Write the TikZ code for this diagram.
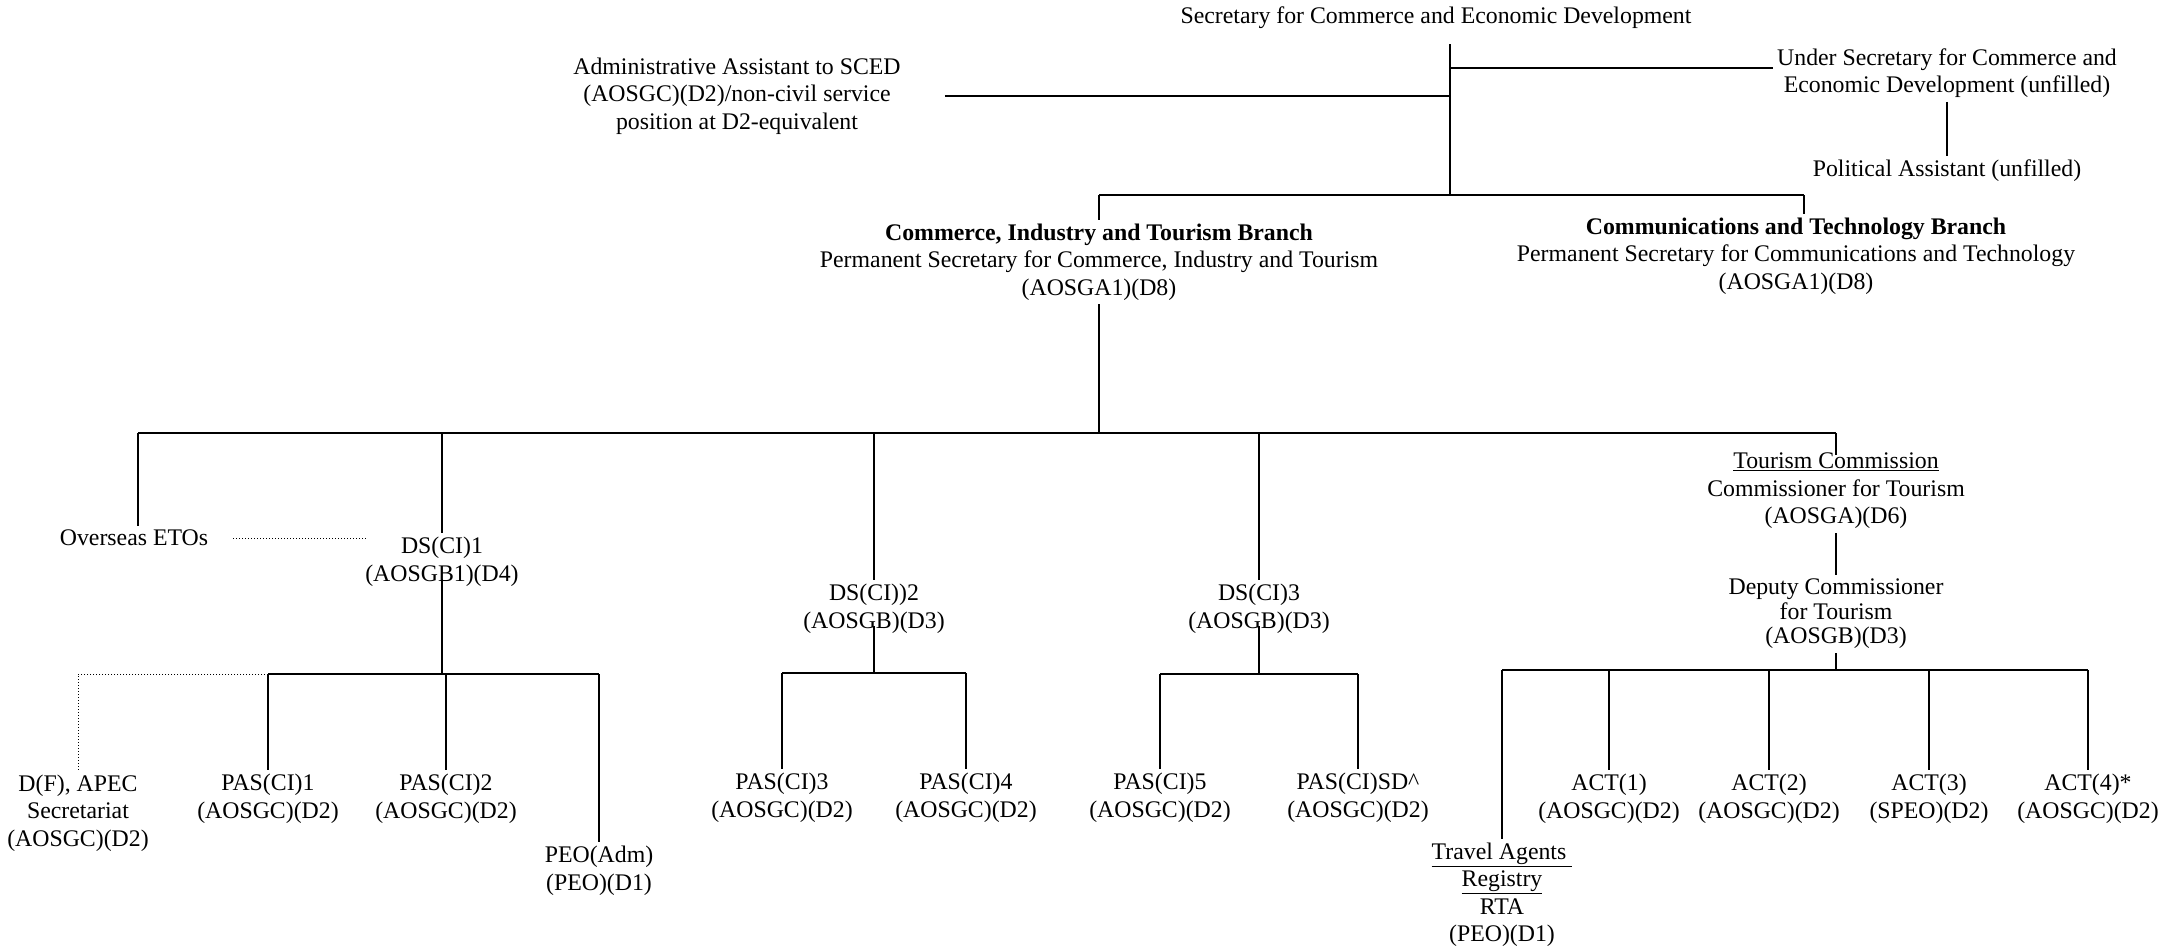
\documentclass[tikz,border=0pt]{standalone}
\usepackage{fontspec}
\setmainfont{Liberation Serif}
\usetikzlibrary{positioning,calc}
\tikzstyle{post} = [align=center, inner sep=4pt,
    font=\fontsize{23.8}{27.5}\selectfont]
\tikzstyle{link} = [draw, line width=1.4pt]
\tikzstyle{bar} = [draw, line width=2.2pt]
\tikzstyle{dots} = [draw, line width=1pt, dotted]
\tikzstyle{junction} = [coordinate]

\begin{document}
\begin{tikzpicture}[x=1pt, y=-1pt]
    \useasboundingbox (0,0) rectangle (2169,951);
    % We start with the secretary and his office
    \node [post] (sced) at (1436,18) {Secretary for Commerce and Economic Development};
    \node [post] (admin) at (737,96) {Administrative Assistant to SCED\\(AOSGC)(D2)/non-civil service\\position at D2-equivalent};
    \node [post] (usec) at (1947,73) {Under Secretary for Commerce and\\Economic Development (unfilled)};
    \node [post] (pa) at (1947,171) {Political Assistant (unfilled)};
    % The two branches
    \node [post] (cit) at (1099,262) {\textbf{Commerce, Industry and Tourism Branch}\\Permanent Secretary for Commerce, Industry and Tourism\\(AOSGA1)(D8)};
    \node [post] (ct) at (1796,256) {\textbf{Communications and Technology Branch}\\Permanent Secretary for Communications and Technology\\(AOSGA1)(D8)};
    % Deputy secretaries and the tourism commission
    \node [post] (eto) at (134,538) {Overseas ETOs};
    \node [post] (ds1) at (442,562) {DS(CI)1\\(AOSGB1)(D4)};
    \node [post] (ds2) at (874,609) {DS(CI))2\\(AOSGB)(D3)};
    \node [post] (ds3) at (1259,609) {DS(CI)3\\(AOSGB)(D3)};
    \node [post] (tc) at (1836,491) {\underline{Tourism Commission}\\Commissioner for Tourism\\(AOSGA)(D6)};
    \node [post, font=\fontsize{23.8}{24.5}\selectfont] (dct) at (1836,614) {Deputy Commissioner\\for Tourism\\(AOSGB)(D3)};
    % Bottom row
    \node [post] (dfapec) at (78,813) {D(F), APEC\\Secretariat\\(AOSGC)(D2)};
    \node [post] (pas1) at (268,799) {PAS(CI)1\\(AOSGC)(D2)};
    \node [post] (pas2) at (446,799) {PAS(CI)2\\(AOSGC)(D2)};
    \node [post] (peo) at (599,871) {PEO(Adm)\\(PEO)(D1)};
    \node [post] (pas3) at (782,798) {PAS(CI)3\\(AOSGC)(D2)};
    \node [post] (pas4) at (966,798) {PAS(CI)4\\(AOSGC)(D2)};
    \node [post] (pas5) at (1160,798) {PAS(CI)5\\(AOSGC)(D2)};
    \node [post] (passd) at (1358,798) {PAS(CI)SD\textasciicircum\\(AOSGC)(D2)};
    \node [post] (tar) at (1502,895) {\underline{Travel Agents\ }\\\underline{Registry}\\RTA\\(PEO)(D1)};
    \node [post] (act1) at (1609,799) {ACT(1)\\(AOSGC)(D2)};
    \node [post] (act2) at (1769,799) {ACT(2)\\(AOSGC)(D2)};
    \node [post] (act3) at (1929,799) {ACT(3)\\(SPEO)(D2)};
    \node [post] (act4) at (2088,799) {ACT(4)*\\(AOSGC)(D2)};
    % Junctions of the bars
    \node [junction] (top) at (1450,44) {};
    \node [junction] (trunk) at (1450,195) {};
    \node [junction] (cbar) at (1099,433) {};
    \node [junction] (b1) at (442,674) {};
    \node [junction] (b2) at (874,673) {};
    \node [junction] (b3) at (1259,674) {};
    \node [junction] (b4) at (1836,670) {};
    % Once the nodes are placed, connecting them is easy.
    \draw [link] (top) -- (trunk);
    \draw [bar] ([xshift=40pt]admin.east) -- (admin.east -| top);
    \draw [bar] ([yshift=5pt]usec.west) -- ([yshift=5pt]usec.west -| top);
    \draw [link] (usec.south) -- (pa.north);
    \draw [bar] (cit.north |- trunk) -- ([xshift=8pt]ct.north |- trunk);
    \draw [link] (cit.north |- trunk) -- (cit.north);
    \draw [link] ([xshift=8pt]ct.north |- trunk) -- ([xshift=8pt]ct.north);
    \draw [link] (cit.south) -- (cbar);
    \draw [bar] ([xshift=4pt]eto.north |- cbar) -- (tc.north |- cbar);
    \draw [link] ([xshift=4pt]eto.north |- cbar) -- ([xshift=4pt]eto.north);
    \draw [link] (ds1.north |- cbar) -- (ds1.north);
    \draw [link] (ds2.north |- cbar) -- (ds2.north);
    \draw [link] (ds3.north |- cbar) -- (ds3.north);
    \draw [link] (tc.north |- cbar) -- ([yshift=-6pt]tc.north);
    \draw [dots] ([xshift=21pt]eto.east) -- ([xshift=6pt]ds1.west |- eto.east);
    % DS(CI)1 division
    \draw [link] ([yshift=12pt]ds1.south) -- (b1);
    \draw [bar] (pas1.north |- b1) -- (peo.north |- b1);
    \draw [dots] (pas1.north |- b1) -| (dfapec.north);
    \draw [link] (pas1.north |- b1) -- (pas1.north);
    \draw [link] (pas2.north |- b1) -- (pas2.north);
    \draw [link] (peo.north |- b1) -- (peo.north);
    % DS(CI)2 division
    \draw [link] ([yshift=12pt]ds2.south) -- (b2);
    \draw [bar] (pas3.north |- b2) -- (pas4.north |- b2);
    \draw [link] (pas3.north |- b2) -- (pas3.north);
    \draw [link] (pas4.north |- b2) -- (pas4.north);
    % DS(CI)3 division
    \draw [link] ([yshift=12pt]ds3.south) -- (b3);
    \draw [bar] (pas5.north |- b3) -- (passd.north |- b3);
    \draw [link] (pas5.north |- b3) -- (pas5.north);
    \draw [link] (passd.north |- b3) -- (passd.north);
    % Tourism Commission
    \draw [link] (tc.south) -- (dct.north);
    \draw [link] (dct.south) -- (b4);
    \draw [bar] (tar.north |- b4) -- (act4.north |- b4);
    \draw [link] (tar.north |- b4) -- (tar.north);
    \draw [link] (act1.north |- b4) -- (act1.north);
    \draw [link] (act2.north |- b4) -- (act2.north);
    \draw [link] (act3.north |- b4) -- (act3.north);
    \draw [link] (act4.north |- b4) -- (act4.north);
\end{tikzpicture}
\end{document}
